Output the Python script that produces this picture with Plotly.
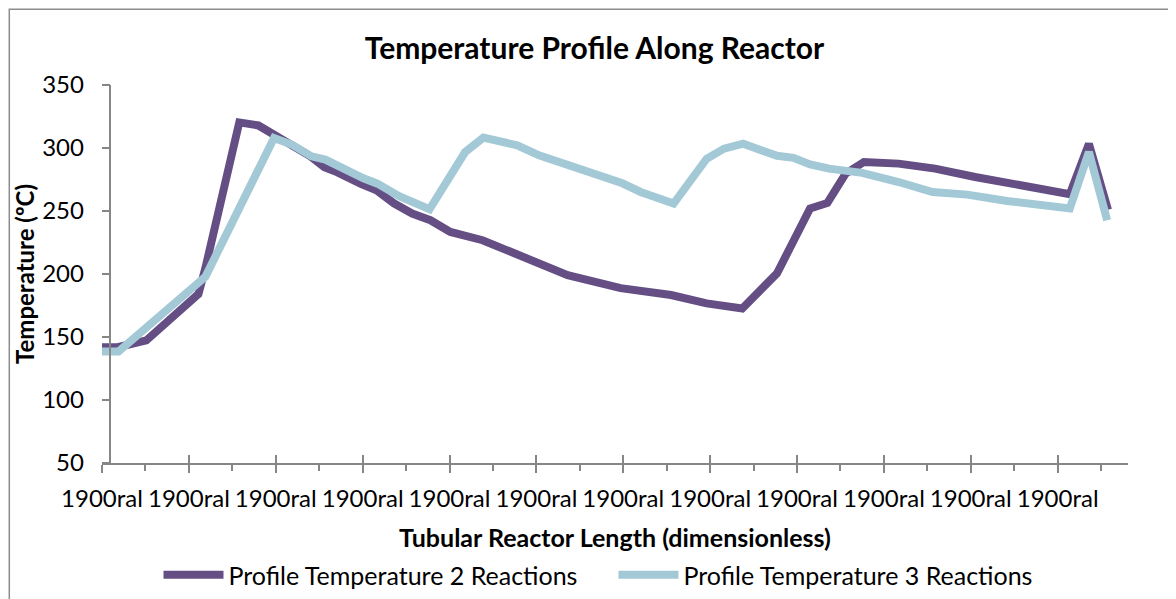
import plotly.graph_objects as go

# ---- data (x in axis units: major ticks at integers, minor at halves) ----
x_major = list(range(12))
tick_text = ["1900ral"] * 12
y_ticks = [50, 100, 150, 200, 250, 300, 350]

x_2r = [0.0, 0.18, 0.51, 1.11, 1.19, 1.58, 1.80, 1.97, 2.19, 2.40, 2.56, 2.71,
        2.98, 3.16, 3.36, 3.57, 3.78, 4.01, 4.38, 4.84, 5.36, 5.97, 6.55, 6.96,
        7.16, 7.37, 7.77, 8.15, 8.35, 8.56, 8.77, 9.17, 9.59, 10.05, 11.14,
        11.36, 11.58]
temp_2r = [141.9, 141.9, 147.3, 184.1, 204.7, 320.3, 317.9, 311.3, 302.9, 293.4,
           284.7, 280.7, 271.6, 266.4, 256.1, 248.0, 242.7, 233.4, 226.8, 213.6,
           199.1, 188.8, 183.3, 176.7, 175.4, 172.6, 200.5, 252.0, 256.4, 279.7,
           288.9, 287.6, 283.6, 277.0, 263.3, 303.3, 251.0]

x_3r = [0.0, 0.19, 1.19, 1.98, 2.19, 2.41, 2.57, 2.77, 3.01, 3.17, 3.42, 3.77,
        4.18, 4.39, 4.78, 5.03, 5.37, 5.79, 5.99, 6.20, 6.58, 6.96, 7.16, 7.38,
        7.77, 7.96, 8.15, 8.37, 8.75, 9.17, 9.56, 9.96, 10.42, 11.14, 11.36,
        11.57]
temp_3r = [138.4, 138.4, 197.8, 308.0, 302.5, 293.4, 290.8, 283.6, 276.0, 271.7,
           261.7, 251.4, 296.8, 308.2, 302.1, 294.2, 286.2, 275.7, 272.0, 265.1,
           255.9, 291.5, 299.5, 303.4, 293.8, 292.2, 287.0, 283.6, 280.3, 273.0,
           265.1, 263.0, 258.0, 252.0, 296.8, 242.7]

name_2r = "Profile Temperature 2 Reactions"
name_3r = "Profile Temperature 3 Reactions"

# ---- styling ----
PURPLE = "#644E84"
BLUE = "#A3C9D7"
AXIS = "#868686"
FONT = "Lato"

OFF = 8  # page body margin
W, H = 1176 - OFF, 599 - OFF
L, R, T, B = 101.5 - OFF, 48, 84.7 - OFF, 135.7
plot_w = W - L - R
plot_h = H - T - B

fig = go.Figure()
fig.add_trace(go.Scatter(x=x_2r, y=temp_2r, mode="lines", name=name_2r,
                         line=dict(color=PURPLE, width=8)))
fig.add_trace(go.Scatter(x=x_3r, y=temp_3r, mode="lines", name=name_3r,
                         line=dict(color=BLUE, width=8)))

xr = [0, 11.81]
fig.update_layout(
    width=W, height=H,
    margin=dict(l=L, r=R, t=T, b=B, pad=0, autoexpand=False),
    paper_bgcolor="white", plot_bgcolor="white",
    font=dict(family=FONT, size=24, color="black"),
    title=dict(text="<b>Temperature Profile Along Reactor</b>",
               x=(594.5 - OFF) / W, xref="container", xanchor="center",
               y=1 - (48 - OFF) / H, yref="container", yanchor="middle",
               font=dict(family=FONT, size=30, color="black")),
    xaxis=dict(range=xr, showgrid=False, zeroline=False, automargin=False,
               showline=True, linecolor=AXIS, linewidth=1.5,
               tickmode="array", tickvals=x_major, ticktext=tick_text,
               ticks="outside", ticklen=8, tickwidth=1.5, tickcolor=AXIS,
               minor=dict(dtick=0.5, tick0=0, ticks="outside", ticklen=6,
                          tickwidth=1.5, tickcolor=AXIS, showgrid=False),
               tickfont=dict(family=FONT, size=24),
               ticklabelstandoff=5,
               title=dict(text="<b>Tubular Reactor Length (dimensionless)</b>",
                          font=dict(family=FONT, size=25), standoff=20)),
    xaxis2=dict(range=xr, overlaying="x", anchor="y", side="bottom",
                showgrid=False, zeroline=False, showline=False, automargin=False,
                tickmode="array", tickvals=x_major, ticktext=[""] * 12,
                ticks="inside", ticklen=8, tickwidth=1.5, tickcolor=AXIS,
                showticklabels=False),
    yaxis=dict(range=[50, 350], anchor="free", position=(110 - 101.5) / plot_w,
               showgrid=False, zeroline=False, automargin=False,
               showline=True, linecolor=AXIS, linewidth=1.5,
               tickmode="array", tickvals=y_ticks,
               ticks="outside", ticklen=8, tickwidth=1.5, tickcolor=AXIS,
               tickfont=dict(family=FONT, size=24),
               ticklabelstandoff=13,
               title=dict(text="<b>Temperature (ºC)</b>",
                          font=dict(family=FONT, size=24), standoff=0)),
    showlegend=True,
    legend=dict(orientation="h", x=(613.5 - OFF) / W, xref="container",
                xanchor="center",
                y=1 - (575 - OFF) / H, yref="container", yanchor="middle",
                font=dict(family=FONT, size=25), itemwidth=60, entrywidth=380,
                bgcolor="rgba(0,0,0,0)"),
    shapes=[dict(type="rect", xref="paper", yref="paper",
                 x0=(0.75 - L) / plot_w, x1=(W + 30 - L) / plot_w,
                 y0=-(B + 30) / plot_h, y1=(plot_h + T - 0.75) / plot_h,
                 line=dict(color="#8C8C8C", width=1.5), fillcolor="rgba(0,0,0,0)",
                 layer="below")],
)
# invisible trace so the overlaying axis (inner half of the cross ticks) renders
fig.add_trace(go.Scatter(x=[None], y=[None], xaxis="x2", showlegend=False,
                         hoverinfo="skip"))

fig.write_html("out.html")
